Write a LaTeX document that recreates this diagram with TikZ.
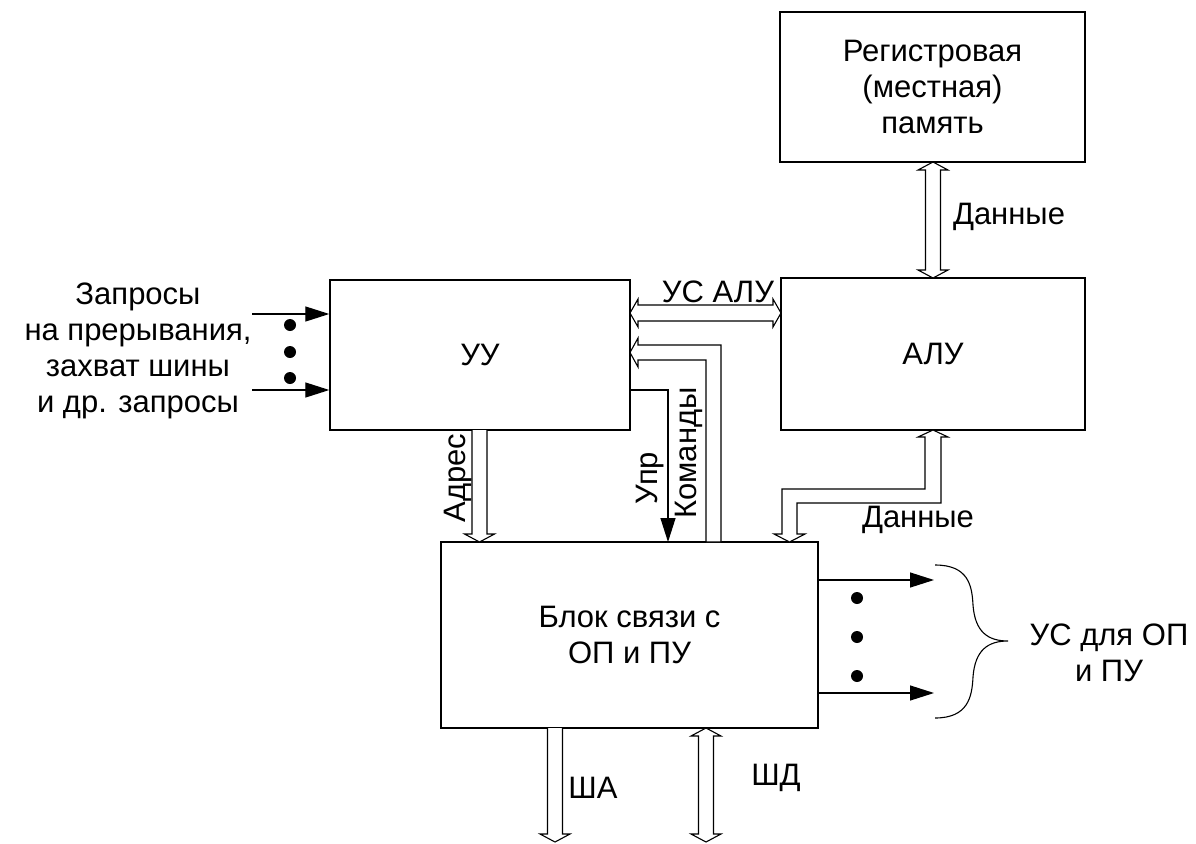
\documentclass[tikz,border=0pt]{standalone}
\usepackage{fontspec}
\setmainfont{Liberation Sans}
\usetikzlibrary{arrows.meta}
\tikzset{
  box/.style={draw, line width=1.4pt, minimum width=#1, inner sep=0pt, align=center},
  lbl/.style={align=center, inner sep=0pt},
  hol/.style={draw, line width=1.1pt, fill=white, line join=miter},
  sig/.style={line width=1.3pt, -{Triangle[length=24pt 0, width=15pt 0]}},
  dot/.style={circle, fill, inner sep=0pt, minimum size=12pt}
}
% vertical double hollow arrow: x, ytop, ybottom
\newcommand\vdblarrow[3]{\draw[hol] (#1,#2) -- (#1+15,#2+8) -- (#1+7.5,#2+8) -- (#1+7.5,#3-8) -- (#1+15,#3-8) -- (#1,#3) -- (#1-15,#3-8) -- (#1-7.5,#3-8) -- (#1-7.5,#2+8) -- (#1-15,#2+8) -- cycle;}
% horizontal double hollow arrow: y, xleft, xright
\newcommand\hdblarrow[3]{\draw[hol] (#2,#1) -- (#2+8,#1-14) -- (#2+8,#1-8) -- (#3-8,#1-8) -- (#3-8,#1-14) -- (#3,#1) -- (#3-8,#1+14) -- (#3-8,#1+8) -- (#2+8,#1+8) -- (#2+8,#1+14) -- cycle;}
% vertical down single hollow arrow: x, ytop, ytip
\newcommand\vdownarrow[3]{\draw[hol] (#1-7.5,#2) -- (#1-7.5,#3-8) -- (#1-15,#3-8) -- (#1,#3) -- (#1+15,#3-8) -- (#1+7.5,#3-8) -- (#1+7.5,#2);}
\begin{document}
\begin{tikzpicture}[x=1pt,y=-1pt,font=\fontsize{31}{36}\selectfont]
\useasboundingbox (0,0) rectangle (1196,843);

% boxes
\node[box=305pt, minimum height=150pt] (reg) at (932.5,87) {Регистровая\\(местная)\\память};
\node[box=300pt, minimum height=150pt] (uu) at (480,355) {УУ};
\node[box=304pt, minimum height=152pt] (alu) at (933,354) {АЛУ};
\node[box=377pt, minimum height=186pt] (blk) at (629.5,635) {Блок связи с\\ОП и ПУ};

% hollow bus arrows
\vdblarrow{933}{162}{278}
\hdblarrow{313}{630}{781}
\draw[hol] (630,352.5) -- (638,338) -- (638,345) -- (721,345) -- (721,542) -- (706,542) -- (706,360) -- (638,360) -- (638,367) -- cycle;
\vdownarrow{479.5}{430}{542}
\draw[hol] (933,430) -- (948,437) -- (941,437) -- (941,503) -- (797,503) -- (797,534) -- (805,534) -- (789.5,542) -- (774,534) -- (782,534) -- (782,489) -- (925,489) -- (925,437) -- (918,437) -- cycle;
\vdownarrow{555}{728}{842}
\vdblarrow{706}{728}{842}

% control signal Упр
\coordinate (u1) at (630,390);
\coordinate (u2) at (668,390);
\coordinate (u3) at (668,542);
\draw[sig] (u1) -- (u2) -- (u3);

% inputs to УУ
\coordinate (i1) at (252,314);
\coordinate (i2) at (252,390);
\draw[sig] (i1) -- (uu.west |- i1);
\draw[sig] (i2) -- (uu.west |- i2);
\node[dot] (d1) at (290,325) {};
\node[dot] (d2) at (290,352) {};
\node[dot] (d3) at (290,378) {};

% outputs of Блок
\coordinate (o1) at (934,580);
\coordinate (o2) at (934,693);
\draw[sig] (blk.east |- o1) -- (o1);
\draw[sig] (blk.east |- o2) -- (o2);
\node[dot] (d4) at (857,598) {};
\node[dot] (d5) at (857,637) {};
\node[dot] (d6) at (857,676) {};

% brace
\draw[line width=1.1pt] (935,565) .. controls (968,565) and (972,585) .. (973,605)
  .. controls (975,632) and (988,641) .. (1008,641)
  .. controls (988,641) and (975,650) .. (973,677)
  .. controls (972,697) and (968,718) .. (935,718);

% labels
\node[lbl] (tq) at (138,351) {Запросы\\на прерывания,\\захват шины\\и др. запросы};
\node[lbl] (td1) at (1009,217) {Данные};
\node[lbl] (tusalu) at (718,292) {УС АЛУ};
\node[lbl, rotate=90] (tadr) at (458,478) {Адрес};
\node[lbl, rotate=90] (tupr) at (650,478) {Упр};
\node[lbl, rotate=90] (tkom) at (689,453) {Команды};
\node[lbl] (td2) at (918,520) {Данные};
\node[lbl] (tsa) at (593,788) {ША};
\node[lbl] (tsd) at (776,778) {ШД};
\node[lbl] (tus) at (1109,653) {УС для ОП\\и ПУ};
\end{tikzpicture}
\end{document}
